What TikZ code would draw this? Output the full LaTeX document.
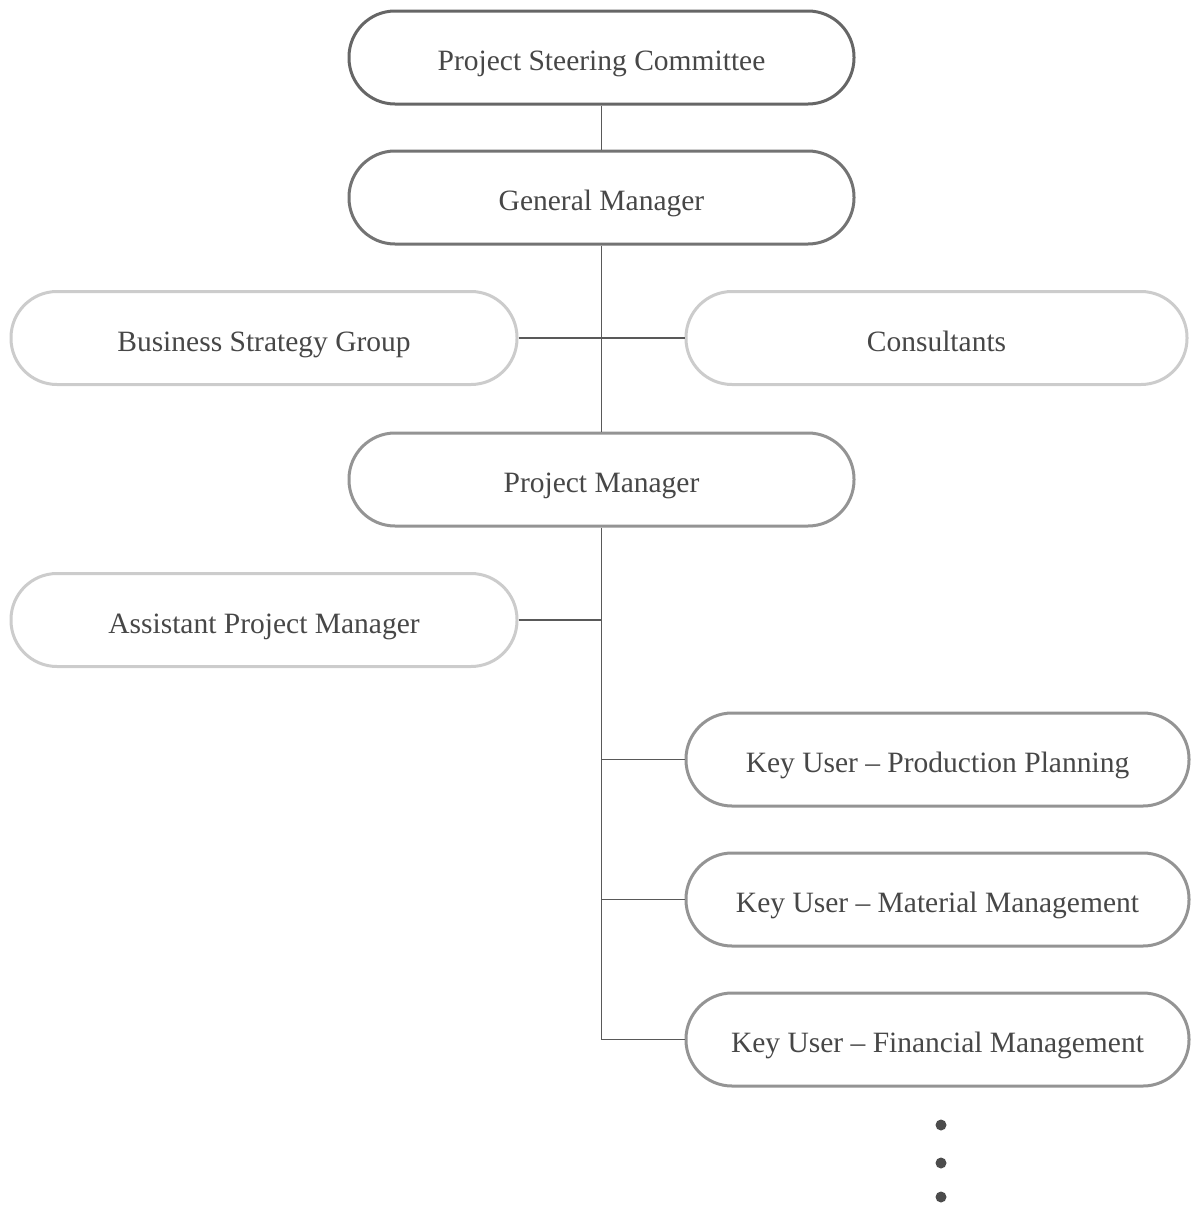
\documentclass[tikz,border=0pt]{standalone}
\usepackage{fontspec}
\setmainfont{Liberation Serif}
\begin{document}
\begin{tikzpicture}[x=1pt,y=-1pt,
  box/.style={draw=#1, line width=3pt, rounded corners=46pt, fill=white,
    minimum height=93pt, inner sep=0pt, text=black!72,
    text height=26pt, text depth=0pt,
    font=\fontsize{29.5}{34}\selectfont},
  link/.style={draw=black!65, line width=1.6pt}]
\useasboundingbox (0,0) rectangle (1194,1205);
\node[box=black!60, minimum width=505pt] (psc) at (601.5,57.5) {Project Steering Committee};
\node[box=black!55, minimum width=505pt] (gm) at (601.5,197.5) {General Manager};
\node[box=black!20, minimum width=506pt] (bsg) at (264,338) {Business Strategy Group};
\node[box=black!20, minimum width=501pt] (cons) at (936.5,338) {Consultants};
\node[box=black!42, minimum width=505pt] (pm) at (601.5,479.5) {Project Manager};
\node[box=black!20, minimum width=506pt] (apm) at (264,620) {Assistant Project Manager};
\node[box=black!42, minimum width=503pt] (ku1) at (937.5,759.5) {Key User -- Production Planning};
\node[box=black!42, minimum width=503pt] (ku2) at (937.5,899.5) {Key User -- Material Management};
\node[box=black!42, minimum width=503pt] (ku3) at (937.5,1039.5) {Key User -- Financial Management};
\path[link] (psc.south) -- (gm.north);
\path[link] (gm.south) -- (pm.north);
\path[link] (bsg.east) -- (cons.west);
\path[link] (pm.south) |- (ku3.west);
\path[link] (apm.east) -- (apm.east -| pm.south);
\path[link] (ku1.west) -- (ku1.west -| pm.south);
\path[link] (ku2.west) -- (ku2.west -| pm.south);
\fill[black!70] (941,1125) circle (5.5pt) (941,1163) circle (5.5pt) (941,1197) circle (5.5pt);
\end{tikzpicture}
\end{document}
